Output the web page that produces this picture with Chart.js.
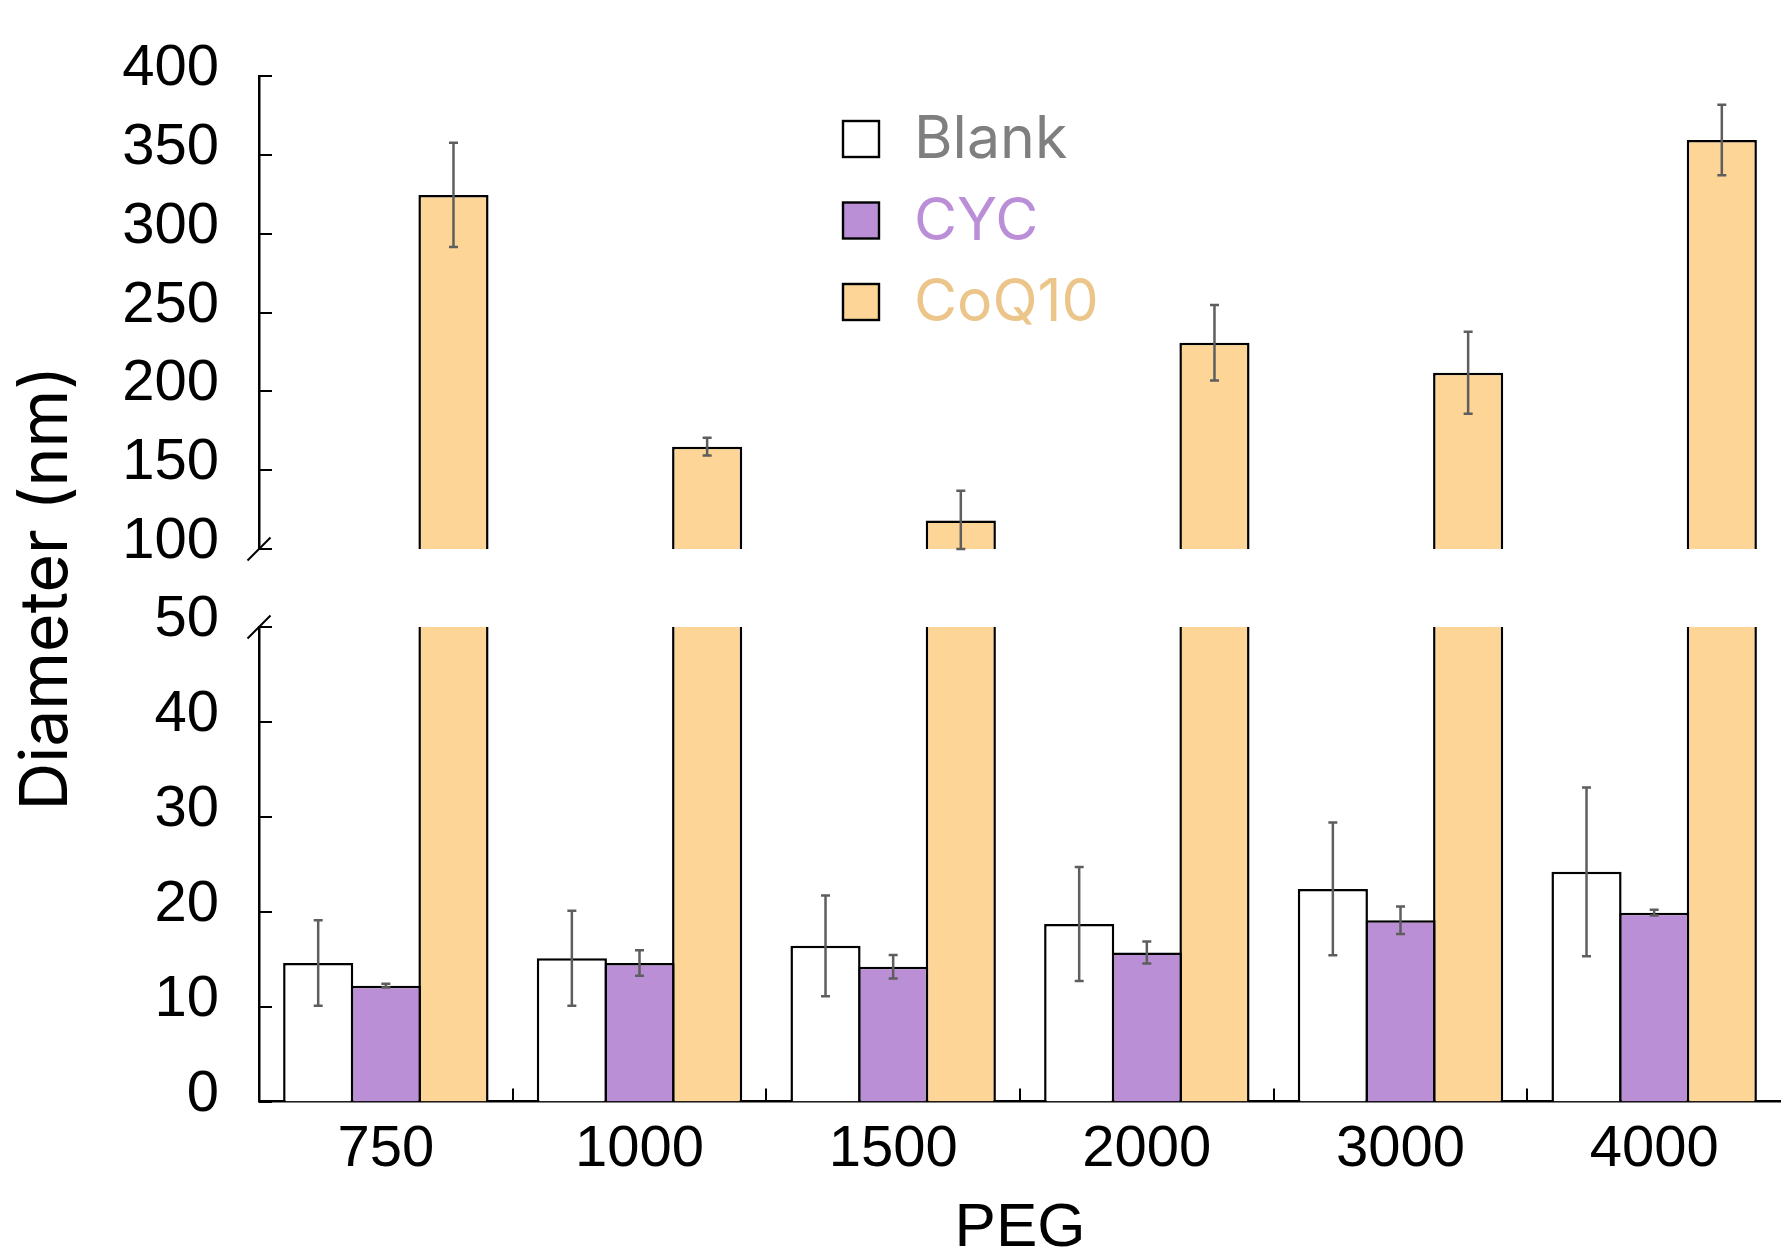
<!DOCTYPE html>
<html>
<head>
<meta charset="utf-8">
<script src="https://cdn.jsdelivr.net/npm/chart.js@4.4.1/dist/chart.umd.min.js"></script>
<style>
  html, body { margin: 0; padding: 0; background: #ffffff; }
  #wrap { width: 1781px; height: 1252px; position: relative; }
</style>
</head>
<body>
<div id="wrap"><canvas id="chart" width="1781" height="1252"></canvas></div>
<script>
// ---------------- data ----------------
const categories = ['750', '1000', '1500', '2000', '3000', '4000'];
const seriesNames = ['Blank', 'CYC', 'CoQ10'];

const blank    = [14.6, 15.1, 16.4, 18.7, 22.4, 24.2];
const blankErr = [4.5, 5.0, 5.3, 6.0, 7.0, 8.9];

const cyc      = [12.2, 14.6, 14.2, 15.7, 19.1, 19.9];
const cycErr   = [0.2, 1.35, 1.25, 1.15, 1.45, 0.3];

const coq10    = [324.6, 164.9, 118.0, 230.8, 211.8, 359.4];
const coq10Err = [33.0, 5.6, 19.0, 24.0, 26.0, 22.3];

const lowRange  = [0, 50];    const lowStep  = 10;
const highRange = [100, 400]; const highStep = 50;

const xTitle = 'PEG';
const yTitle = 'Diameter (nm)';

// ---------------- style ----------------
const fills      = ['#ffffff', '#bb8fd6', '#fdd596'];
const legendText = ['#7f7f7f', '#bb8fd8', '#ebc58a'];
const tickFont   = { family: 'Liberation Sans', size: 58 };
const AXIS_W = 259;      // width reserved for y axes (chart area left)
const BW = 2.5;          // bar border width

// error bars plugin
const errorBars = {
  id: 'errorBars',
  afterDatasetsDraw(chart) {
    const ctx = chart.ctx;
    ctx.save();
    ctx.strokeStyle = '#5e5e5e';
    ctx.lineWidth = 2.5;
    chart.data.datasets.forEach((ds, di) => {
      if (!ds.errValues) return;
      const meta = chart.getDatasetMeta(di);
      const scale = chart.scales[meta.yAxisID];
      meta.data.forEach((bar, i) => {
        const v = ds.rawValues[i], e = ds.errValues[i];
        const hi = Math.min(v + e, scale.max), lo = Math.max(v - e, scale.min);
        const yh = scale.getPixelForValue(hi), yl = scale.getPixelForValue(lo);
        const x = bar.x, cw = 4.5;
        ctx.beginPath();
        ctx.moveTo(x, yh); ctx.lineTo(x, yl);
        ctx.moveTo(x - cw, yh); ctx.lineTo(x + cw, yh);
        ctx.moveTo(x - cw, yl); ctx.lineTo(x + cw, yl);
        ctx.stroke();
      });
    });
    ctx.restore();
  }
};

// inner tick marks and axis break marks
const axisDecor = {
  id: 'axisDecor',
  afterDraw(chart) {
    const ctx = chart.ctx;
    const { x, yLow, yHigh } = chart.scales;
    const ax = yLow.right;
    const tl = 13;
    ctx.save();
    ctx.strokeStyle = '#000';
    ctx.lineWidth = 2;
    ctx.beginPath();
    [yLow, yHigh].forEach(s => s.ticks.forEach(t => {
      const p = Math.round(s.getPixelForValue(t.value));
      ctx.moveTo(ax, p); ctx.lineTo(ax + tl, p);
    }));
    for (let i = 0; i < categories.length - 1; i++) {
      const p = Math.round((x.getPixelForValue(i) + x.getPixelForValue(i + 1)) / 2);
      ctx.moveTo(p, x.top); ctx.lineTo(p, x.top - tl);
    }
    [yHigh.bottom, yLow.top].forEach(p => {
      ctx.moveTo(ax - 11.5, p + 11.5); ctx.lineTo(ax + 11.5, p - 11.5);
    });
    ctx.stroke();
    ctx.restore();
  }
};

// legend drawn inside the plot
const insideLegend = {
  id: 'insideLegend',
  afterDraw(chart, args, opts) {
    const ctx = chart.ctx;
    ctx.save();
    ctx.font = opts.font;
    ctx.textAlign = 'left';
    ctx.textBaseline = 'middle';
    seriesNames.forEach((name, i) => {
      const cy = opts.top + i * opts.spacing;
      const b = opts.box;
      ctx.fillStyle = fills[i];
      ctx.fillRect(opts.left, cy - b / 2, b, b);
      ctx.strokeStyle = '#000';
      ctx.lineWidth = 2.4;
      ctx.strokeRect(opts.left, cy - b / 2, b, b);
      ctx.fillStyle = legendText[i];
      ctx.fillText(name, opts.textLeft, cy + 1.5);
    });
    ctx.restore();
  }
};

const catPct = 0.8;
const barPct = 1.037;

const yTicks = (step) => ({ stepSize: step, font: tickFont, color: '#000', padding: 40,
                            labelOffset: -7, autoSkip: false });

new Chart(document.getElementById('chart'), {
  type: 'bar',
  data: {
    labels: categories,
    datasets: [
      { label: seriesNames[0], data: blank, yAxisID: 'yLow', stack: 's0',
        backgroundColor: fills[0], borderColor: '#000', borderWidth: BW,
        rawValues: blank, errValues: blankErr },
      { label: seriesNames[1], data: cyc, yAxisID: 'yLow', stack: 's1',
        backgroundColor: fills[1], borderColor: '#000', borderWidth: BW,
        rawValues: cyc, errValues: cycErr },
      { label: seriesNames[2], data: coq10.map(v => Math.min(v, lowRange[1])), yAxisID: 'yLow', stack: 's2',
        backgroundColor: fills[2], borderColor: '#000',
        borderWidth: { left: BW, right: BW, top: 0, bottom: 0 } },
      { label: seriesNames[2], data: coq10, yAxisID: 'yHigh', stack: 's2', base: highRange[0],
        backgroundColor: fills[2], borderColor: '#000', borderWidth: BW,
        rawValues: coq10, errValues: coq10Err }
    ]
  },
  options: {
    responsive: false,
    animation: false,
    events: [],
    devicePixelRatio: 1,
    barPercentage: barPct,
    categoryPercentage: catPct,
    layout: { padding: { top: 76, left: 0, right: 0, bottom: 0 } },
    plugins: {
      legend: { display: false },
      tooltip: { enabled: false },
      insideLegend: { left: 843, top: 139, spacing: 81.5, box: 36, textLeft: 914,
                      font: '59px Inter' }
    },
    scales: {
      x: {
        type: 'category', offset: true,
        grid: { display: false, drawTicks: false, offset: true },
        border: { display: true, color: '#000', width: 2.5 },
        ticks: { font: tickFont, color: '#000', padding: 14, maxRotation: 0, autoSkip: false },
        title: { display: true, text: xTitle, color: '#000', padding: 0,
                 font: { family: 'Liberation Sans', size: 62, lineHeight: 0.742 } },
        afterFit: s => { s.height = 150.5; }
      },
      yHigh: {
        type: 'linear', position: 'left', stack: 'y', stackWeight: 473, weight: 3,
        min: highRange[0], max: highRange[1], stacked: false,
        grid: { display: false, drawTicks: false },
        border: { display: true, color: '#000', width: 2.5 },
        ticks: yTicks(highStep),
        afterFit: s => { s.width = AXIS_W; }
      },
      yGap: {
        type: 'linear', position: 'left', stack: 'y', stackWeight: 78, weight: 2,
        min: 0, max: 1,
        grid: { display: false, drawTicks: false },
        border: { display: false },
        ticks: { display: false },
        title: { display: true, text: yTitle, color: '#000', padding: { top: 8, bottom: 0 },
                 font: { family: 'Inter', size: 66 } },
        afterFit: s => { s.width = AXIS_W; }
      },
      yLow: {
        type: 'linear', position: 'left', stack: 'y', stackWeight: 474.5, weight: 1,
        min: lowRange[0], max: lowRange[1], stacked: false,
        grid: { display: false, drawTicks: false },
        border: { display: true, color: '#000', width: 2.5 },
        ticks: yTicks(lowStep),
        afterFit: s => { s.width = AXIS_W; }
      }
    }
  },
  plugins: [errorBars, axisDecor, insideLegend]
});
</script>
</body>
</html>
